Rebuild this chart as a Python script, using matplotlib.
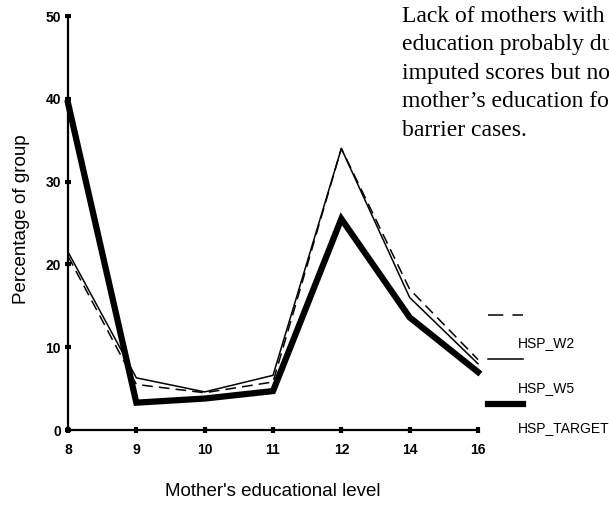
import matplotlib
matplotlib.use("Agg")
import matplotlib.pyplot as plt
from matplotlib.lines import Line2D

levels = ["8", "9", "10", "11", "12", "14", "16"]
hsp_w2 = [21, 5.5, 4.5, 5.8, 34, 17, 8.5]
hsp_w5 = [21.5, 6.3, 4.6, 6.6, 34, 16, 8]
hsp_target = [39.5, 3.3, 3.8, 4.7, 25.5, 13.6, 7]
series_names = ["HSP_W2", "HSP_W5", "HSP_TARGET"]
note_lines = ["Lack of mothers with", "education probably du",
              "imputed scores but no", "mother\u2019s education fo",
              "barrier cases."]

W, H = 609, 508
fig = plt.figure(figsize=(W/100, H/100), dpi=100)
ax = fig.add_axes([68/W, 1-430/H, (478-68)/W, (430-16)/H])
xs = list(range(len(levels)))
ax.plot(xs, hsp_w2, color="black", lw=1.1, ls=(0, (7, 4)), clip_on=False)
ax.plot(xs, hsp_w5, color="black", lw=1.1, clip_on=False)
ax.plot(xs, hsp_target, color="black", lw=4.5, clip_on=False, solid_joinstyle="miter")
ax.set_xlim(0, len(levels)-1)
ax.set_ylim(0, 50)
ax.set_xticks(xs)
ax.set_xticklabels(levels)
ax.set_yticks([0, 10, 20, 30, 40, 50])
for s in ["top", "right"]:
    ax.spines[s].set_visible(False)
for s in ["left", "bottom"]:
    ax.spines[s].set_linewidth(1.6)
ax.tick_params(direction="inout", length=4, width=3, labelsize=10)
ax.tick_params(axis="x", pad=7)
ax.tick_params(axis="y", pad=3)
for lab in ax.get_xticklabels() + ax.get_yticklabels():
    lab.set_fontfamily("Liberation Sans")
    lab.set_fontweight("bold")

fig.text(22/W, 1-219/H, "Percentage of group", rotation=90, fontsize=13.5,
         family="Liberation Sans", ha="center", va="center")
fig.text(273/W, 1-492/H, "Mother's educational level", fontsize=13.5,
         family="Liberation Sans", ha="center", va="center")

# legend-like key at right
styles = [dict(lw=1.1, ls=(0, (10, 6))), dict(lw=1.1), dict(lw=4.5)]
sym_y = [315, 359, 404]
lab_y = [343, 388, 428]
for name, st, sy, ly in zip(series_names, styles, sym_y, lab_y):
    fig.add_artist(Line2D([488/W, 523/W], [1-sy/H, 1-sy/H], color="black", **st))
    fig.text(518/W, 1-ly/H, name, fontsize=10, family="Liberation Sans",
             va="center", ha="left")

for i, line in enumerate(note_lines):
    fig.text(402/W, 1-(16+28.5*i)/H, line, fontsize=17, family="Liberation Serif",
             va="center", ha="left")

fig.savefig("out.png", dpi=100)
